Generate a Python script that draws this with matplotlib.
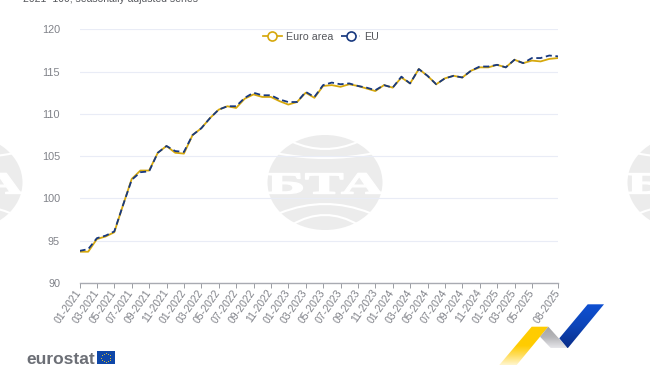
import matplotlib
matplotlib.use("Agg")
import matplotlib.pyplot as plt
import numpy as np
from matplotlib.lines import Line2D
from matplotlib.patches import Ellipse, Polygon, PathPatch, Rectangle
from matplotlib.path import Path
from matplotlib.patheffects import AbstractPathEffect
from matplotlib.transforms import Affine2D

plt.rcParams["font.family"] = ["Liberation Sans", "DejaVu Sans"]

# ---------------------------------------------------------------------------
# data
# ---------------------------------------------------------------------------

years = ["2021", "2022", "2023", "2024", "2025"]
months = [f"{m:02d}-{y}" for y in years for m in range(1, 13)][:56]
tick_labels = months[:53:2] + ["08-2025"]

euro_area = [93.7, 93.7, 95.2, 95.5, 96.0, 99.2, 102.3, 103.3, 103.3, 105.4,
             106.2, 105.4, 105.3, 107.5, 108.3, 109.5, 110.5, 110.9, 110.7, 111.8,
             112.3, 112.0, 112.0, 111.5, 111.1, 111.4, 112.5, 111.9, 113.3, 113.4,
             113.2, 113.5, 113.3, 113.0, 112.7, 113.4, 113.1, 114.3, 113.6, 115.3,
             114.5, 113.5, 114.2, 114.5, 114.3, 115.1, 115.5, 115.5, 115.8, 115.5,
             116.4, 116.0, 116.3, 116.2, 116.5, 116.6]
eu = [93.8, 94.0, 95.3, 95.6, 96.1, 99.2, 102.2, 103.1, 103.2, 105.4,
      106.2, 105.6, 105.5, 107.5, 108.3, 109.5, 110.5, 110.9, 110.9, 111.9,
      112.5, 112.2, 112.2, 111.7, 111.4, 111.4, 112.6, 112.0, 113.4, 113.7,
      113.5, 113.6, 113.3, 113.1, 112.8, 113.4, 113.1, 114.4, 113.6, 115.3,
      114.5, 113.5, 114.2, 114.5, 114.3, 115.1, 115.6, 115.6, 115.8, 115.5,
      116.4, 116.0, 116.6, 116.6, 116.9, 116.8]
y_ticks = [90, 95, 100, 105, 110, 115, 120]

GOLD = "#d6a80c"
NAVY = "#17387f"
GREY = "#808289"
W, H = 650, 365


class StretchX(AbstractPathEffect):
    """Widen text around a pixel x, the BTA letters are much wider than any font."""

    def __init__(self, cx, factor):
        super().__init__()
        self.cx, self.factor = cx, factor

    def draw_path(self, renderer, gc, tpath, affine, rgbFace=None):
        stretch = Affine2D().translate(-self.cx, 0).scale(self.factor, 1).translate(self.cx, 0)
        gc0 = renderer.new_gc()
        gc0.copy_properties(gc)
        gc0.set_linewidth(1.0)
        gc0.set_foreground("white")
        renderer.draw_path(gc0, tpath, affine + stretch, rgbFace)
        gc0.restore()


def watermark(bg, cx, cy=182.5, rx=57.5, ry=47.5):
    bg.add_patch(Ellipse((cx, cy), 2 * rx, 2 * ry, fc="#ececec", ec="none", zorder=1))
    # white arcs: half width, end offset and middle offset from the centre
    arcs = ((33.5, -41, -33.5), (49.5, -29.5, -24.5), (45, 30.5, 21.5), (33.5, 42.5, 32.5))
    for half, end, mid in arcs:
        ctrl = 2 * mid - end
        arc = Path([(cx - half, cy + end), (cx, cy + ctrl), (cx + half, cy + end)],
                   [Path.MOVETO, Path.CURVE3, Path.CURVE3])
        bg.add_patch(PathPatch(arc, fc="none", ec="white", lw=1.5, zorder=2))
    text = bg.text(cx, cy + 11, "БТА", family="Liberation Serif", weight="bold",
                   fontsize=22, color="white", ha="center", va="baseline", zorder=3)
    px = bg.transData.transform((cx, cy))[0]
    text.set_path_effects([StretchX(px, 1.92)])


def gradient_polygon(bg, points, colors):
    # polygon filled from an image, imshow is the plain way to get a gradient
    rgb = np.array([matplotlib.colors.to_rgb(c) for c in colors])
    steps = np.linspace(0, len(colors) - 1, 64)
    grad = np.stack([np.interp(steps, range(len(colors)), rgb[:, i]) for i in range(3)], axis=-1)
    grad = grad[:, None, :]
    xs, ys = zip(*points)
    im = bg.imshow(grad, extent=(min(xs), max(xs), max(ys), min(ys)), aspect="auto", zorder=5)
    clip = Polygon(points, closed=True, transform=bg.transData)
    im.set_clip_path(clip)


fig = plt.figure(figsize=(W / 100, H / 100), dpi=100, facecolor="white")

# pixel-coordinate layer for everything that is not the chart itself
bg = fig.add_axes([0, 0, 1, 1], zorder=0)
bg.set_xlim(0, W)
bg.set_ylim(H, 0)
bg.axis("off")

for cx in (-35, 325, 685):
    watermark(bg, cx)

bg.text(23, 1.5, "2021=100, seasonally adjusted series", fontsize=7.5, color="#55575c",
        ha="left", va="baseline")

# eurostat logo
bg.text(26.5, 363.5, "eurostat", fontsize=12.5, weight="bold", color="#6c6f76",
        ha="left", va="baseline")
bg.add_patch(Rectangle((97, 351), 17.5, 13, fc="#0f47a8", ec="none", zorder=4))
angles = np.linspace(0, 2 * np.pi, 12, endpoint=False)
bg.scatter(105.7 + 4.4 * np.cos(angles), 357.5 + 4.4 * np.sin(angles), s=0.5,
           color="#d8bd3a", linewidths=0, zorder=5)

# ribbon logo
gradient_polygon(bg, [(531.7, 326.7), (548.3, 326.7), (516.7, 365), (499.3, 365)],
                 ["#ffcc00", "#ffcc00", "#ffcc00", "#ffdd5c", "#fff5cc"])
gradient_polygon(bg, [(548.3, 326.7), (567.7, 348.3), (551, 348.3), (540, 336.7)],
                 ["#a3a3a6", "#b5b5b8", "#e6e6ea"])
gradient_polygon(bg, [(587.7, 304.3), (604, 304.3), (567.7, 348.3), (559.3, 338.3)],
                 ["#0f50d2", "#0d45b8", "#0a2d88"])
bg.set_xlim(0, W)
bg.set_ylim(H, 0)

# ---------------------------------------------------------------------------
# chart
# ---------------------------------------------------------------------------

ax = fig.add_axes([79.5 / W, 1 - 283 / H, (558 - 79.5) / W, (283 - 29.3) / H], zorder=1)
ax.patch.set_alpha(0)

x = np.arange(len(euro_area))
ax.plot(x, euro_area, color=GOLD, lw=1.3, zorder=3, solid_joinstyle="round")
ax.plot(x, eu, color=NAVY, lw=1.3, dashes=(3.4, 2.0), zorder=4)

ax.set_xlim(0, len(euro_area) - 1)
ax.set_ylim(90, 120)
ax.set_yticks(y_ticks)
ax.set_xticks([months.index(t) for t in tick_labels])
ax.set_xticklabels(tick_labels, rotation=55, ha="right", va="center", rotation_mode="anchor")
ax.tick_params(axis="x", colors="#9a9ca3", length=3.5, width=0.7, labelsize=7.6,
               labelcolor=GREY, pad=2)
ax.tick_params(axis="y", length=0, labelsize=7.8, labelcolor=GREY, pad=14)
ax.grid(axis="y", color="#e9ecf6", lw=0.8, zorder=1)
ax.set_axisbelow(True)
for name, spine in ax.spines.items():
    spine.set_visible(name == "bottom")
ax.spines["bottom"].set_color("#a9abb2")
ax.spines["bottom"].set_linewidth(1.0)

handles = [
    Line2D([], [], color=GOLD, lw=1.25, marker="o", ms=6.5, mfc="white", mew=1.2),
    Line2D([], [], color=NAVY, lw=1.25, dashes=(3.4, 2.0), marker="o", ms=6.5, mfc="white", mew=1.2),
]
ax.legend(handles, ["Euro area", "EU"], ncol=2, loc="center", frameon=False,
          bbox_to_anchor=((321 - 79.5) / (558 - 79.5), 1 - (36.5 - 29.3) / (283 - 29.3)),
          fontsize=7.7, labelcolor="#55575c", handlelength=1.8, handletextpad=0.4,
          columnspacing=0.7, borderpad=0)

fig.savefig("out.png", dpi=100, facecolor="white")
